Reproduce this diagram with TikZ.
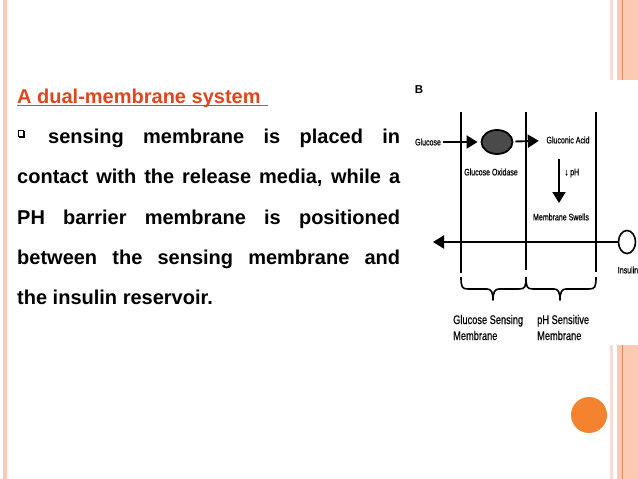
\documentclass[tikz,border=0pt]{standalone}
\usepackage{fontspec}
\setmainfont{Liberation Sans}
\newfontfamily\lab[FakeStretch=0.74,FakeBold=0.5]{Liberation Sans}
\usetikzlibrary{arrows.meta,shapes.geometric}
\definecolor{titlered}{HTML}{E0461C}
\definecolor{leftstripe}{HTML}{F7CBBB}
\definecolor{pale}{HTML}{F9DCD0}
\definecolor{band}{HTML}{FCC9B3}
\definecolor{bandline}{HTML}{D98A66}
\definecolor{orangedot}{HTML}{F5822F}
\definecolor{enzyme}{HTML}{4A4A4A}
\begin{document}
\begin{tikzpicture}[x=1pt,y=-1pt,
  body/.style={anchor=base west, inner sep=0pt, font=\fontsize{20}{24}\selectfont\bfseries},
  lbl/.style={inner sep=1.5pt, font=\lab\fontsize{9.5}{11}\selectfont},
  biglbl/.style={anchor=base west, inner sep=0pt, font=\lab\fontsize{12.5}{15}\selectfont},
  flow/.style={line width=1.9pt, -{Triangle[length=11pt,width=13pt]}},
  membrane/.style={line width=1.6pt},
  brc/.style={line width=1.6pt, line join=round}]
\useasboundingbox (0,0) rectangle (638,479);
\fill[white] (0,0) rectangle (638,479);
% slide decorations
\fill[leftstripe] (3,0) rectangle (7,479);
\fill[pale] (610,0) rectangle (613,80);
\fill[band] (617,0) rectangle (638,80);
\draw[bandline, line width=0.8pt] (622.3,0) -- (622.3,80);
\fill[pale] (610,345) rectangle (613,479);
\fill[band] (617,345) rectangle (638,479);
\draw[bandline, line width=0.8pt] (622.3,345) -- (622.3,479);
\fill[orangedot] (589,415) circle (18pt);
% text block
\node[body, text=titlered] (t1) at (17,103) {A dual-membrane system};
\draw[titlered, line width=1.4pt] ([yshift=-2.2pt]t1.base west) -- ([yshift=-2.2pt,xshift=251pt]t1.base west);
\draw[line width=0.7pt] (18,130) rectangle (23,136);
\draw[line width=1.1pt] (19,137) -- (24,137) -- (24,131);
\node[body] (t2) at (48,143) {\makebox[352pt][s]{sensing membrane is placed in}};
\node[body] (t3) at (17,183) {\makebox[383pt][s]{contact with the release media, while a}};
\node[body] (t4) at (17,224) {\makebox[383pt][s]{PH barrier membrane is positioned}};
\node[body] (t5) at (17,264) {\makebox[383pt][s]{between the sensing membrane and}};
\node[body] (t6) at (17,304) {the insulin reservoir.};
% figure B
\node[inner sep=0pt, font=\fontsize{11.5}{13}\selectfont\bfseries] (B) at (419,90) {B};
\coordinate (m1t) at (461,112); \coordinate (m1b) at (461,273);
\coordinate (m2t) at (526,112); \coordinate (m2b) at (526,270);
\coordinate (m3t) at (596,112); \coordinate (m3b) at (596,272);
\draw[membrane] (m1t) -- (m1b);
\draw[membrane] (m2t) -- (m2b);
\draw[membrane] (m3t) -- (m3b);
\node[lbl] (glu) at (428,142) {Glucose};
\node[ellipse, draw, line width=1.8pt, fill=enzyme, minimum width=31pt, minimum height=24pt, inner sep=0pt] (enz) at (497,142) {};
\node[lbl] (gox) at (491,172) {Glucose Oxidase};
\node[lbl] (gacid) at (568,140) {Gluconic Acid};
\node[lbl] (ph) at (572,173) {↓ pH};
\node[lbl] (swell) at (561,217) {Membrane Swells};
\node[ellipse, draw, line width=1.6pt, fill=white, minimum width=17pt, minimum height=23pt, inner sep=0pt] (ins) at (627,242) {};
\node[lbl] (inslbl) at (628,270) {Insulin};
\coordinate (phtop) at (559,159);
\coordinate (phbot) at (559,203);
\coordinate (out) at (433,242);
\draw[flow, shorten >=3pt] (glu) -- (enz);
\draw[flow, shorten <=2pt, shorten >=6pt] (enz) -- (gacid);
\draw[flow] (phtop) -- (phbot);
\draw[flow] (ins) -- (out);
% braces
\draw[brc] (461,277) .. controls (461,287) and (462,289) .. (468,289) -- (487,289)
  .. controls (491,289) and (493,292) .. (493,300)
  .. controls (493,292) and (495,289) .. (499,289) -- (519,289)
  .. controls (525,289) and (526,287) .. (526,277);
\draw[brc] (526,277) .. controls (526,287) and (527,289) .. (533,289) -- (554,289)
  .. controls (558,289) and (560,292) .. (560,300)
  .. controls (560,292) and (562,289) .. (566,289) -- (589,289)
  .. controls (595,289) and (596,287) .. (596,277);
\node[biglbl] (gs1) at (453,324) {Glucose Sensing};
\node[biglbl] (gs2) at (453,340) {Membrane};
\node[biglbl] (ps1) at (537,324) {pH Sensitive};
\node[biglbl] (ps2) at (537,340) {Membrane};
\end{tikzpicture}
\end{document}
